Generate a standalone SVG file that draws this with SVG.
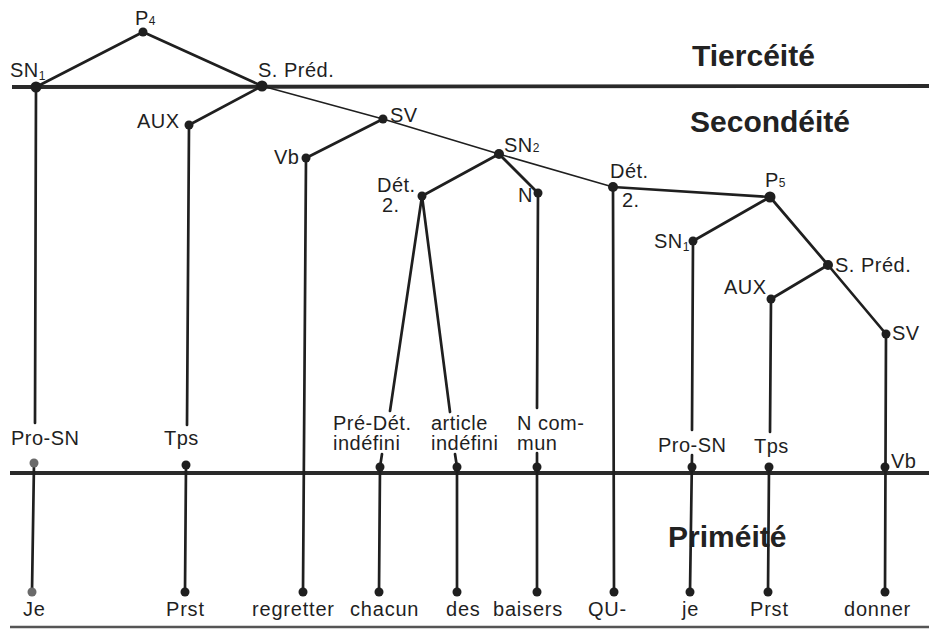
<svg xmlns="http://www.w3.org/2000/svg" width="929" height="630" viewBox="0 0 929 630">
<style>
.ln{stroke:#1f1f1f;stroke-width:2.7;fill:none;stroke-linecap:round}
.thin{stroke-width:1.5}
.rule{stroke:#2a2a2a;stroke-width:3.8;fill:none}
.dot{fill:#1f1f1f}
.gdot{fill:#6a6a6a}
.t{font-family:"Liberation Sans",Arial,Helvetica,sans-serif;font-size:20px;fill:#1f1f1f;letter-spacing:0.5px}
.w{font-size:20px;letter-spacing:0.8px}
.b{font-family:"Liberation Sans",Arial,Helvetica,sans-serif;font-size:30px;font-weight:bold;fill:#222}
.sub{font-size:12px}
</style>
<rect width="929" height="630" fill="#fff"/>
<g id="rules">
<line class="rule" x1="12" y1="87" x2="929" y2="86"/>
<line class="rule" x1="10" y1="473" x2="929" y2="473"/>
<line x1="10" y1="627" x2="929" y2="627" stroke="#555" stroke-width="2.5"/>
</g>
<g id="levels">
<text class="b" x="692" y="66">Tiercéité</text>
<text class="b" x="690" y="132">Secondéité</text>
<text class="b" x="668" y="547">Priméité</text>
</g>
<g id="connectors">
<line class="ln" x1="143" y1="32" x2="36" y2="87"/>
<line class="ln" x1="143" y1="32" x2="262" y2="86"/>
<line class="ln" x1="262" y1="86" x2="189" y2="125"/>
<line class="ln thin" x1="262" y1="86" x2="383" y2="119"/>
<line class="ln" x1="383" y1="119" x2="306" y2="158"/>
<line class="ln thin" x1="383" y1="119" x2="499" y2="154"/>
<line class="ln" x1="499" y1="154" x2="422" y2="196"/>
<line class="ln" x1="499" y1="154" x2="538" y2="193"/>
<line class="ln thin" x1="499" y1="154" x2="613" y2="187"/>
<line class="ln" x1="613" y1="187" x2="770" y2="197"/>
<line class="ln" x1="770" y1="197" x2="693" y2="241"/>
<line class="ln" x1="770" y1="197" x2="828" y2="265"/>
<line class="ln" x1="828" y1="265" x2="771" y2="299"/>
<line class="ln" x1="828" y1="265" x2="886" y2="334"/>
<line class="ln" x1="36" y1="87" x2="35" y2="423"/>
<line class="ln" x1="34" y1="463" x2="32" y2="592"/>
<line class="ln" x1="189" y1="125" x2="187" y2="425"/>
<line class="ln" x1="186" y1="465" x2="185" y2="592"/>
<line class="ln" x1="306" y1="158" x2="303" y2="592"/>
<line class="ln" x1="422" y1="196" x2="390" y2="411"/>
<line class="ln" x1="422" y1="196" x2="450" y2="412"/>
<line class="ln" x1="382" y1="454" x2="380" y2="467"/>
<line class="ln" x1="380" y1="467" x2="379" y2="592"/>
<line class="ln" x1="455" y1="454" x2="457" y2="467"/>
<line class="ln" x1="457" y1="467" x2="457" y2="592"/>
<line class="ln" x1="538" y1="193" x2="537" y2="408"/>
<line class="ln" x1="537" y1="453" x2="537" y2="592"/>
<line class="ln" x1="613" y1="187" x2="614" y2="592"/>
<line class="ln" x1="693" y1="241" x2="692" y2="430"/>
<line class="ln" x1="692" y1="455" x2="690" y2="592"/>
<line class="ln" x1="771" y1="299" x2="770" y2="432"/>
<line class="ln" x1="769" y1="467" x2="768" y2="592"/>
<line class="ln" x1="886" y1="334" x2="885" y2="592"/>
</g>
<g id="P4"><circle class="dot" cx="143" cy="32" r="4.5"/><text class="t" x="135" y="25">P<tspan class="sub">4</tspan></text></g>
<g id="SN1"><circle class="dot" cx="36" cy="87" r="5.5"/><text class="t" x="10" y="77">SN<tspan class="sub" dy="3">1</tspan></text></g>
<g id="SPred"><circle class="dot" cx="262" cy="86" r="5.5"/><text class="t" x="258" y="77">S. Préd.</text></g>
<g id="AUX"><circle class="dot" cx="189" cy="125" r="4.5"/><text class="t" x="137" y="128">AUX</text></g>
<g id="SV"><circle class="dot" cx="383" cy="119" r="4.5"/><text class="t" x="390" y="122">SV</text></g>
<g id="Vb"><circle class="dot" cx="306" cy="158" r="4.5"/><text class="t" x="274" y="164">Vb</text></g>
<g id="SN2"><circle class="dot" cx="499" cy="154" r="5"/><text class="t" x="504" y="152">SN<tspan class="sub">2</tspan></text></g>
<g id="Det2a"><circle class="dot" cx="422" cy="196" r="4.5"/><text class="t" x="377" y="192">Dét.<tspan x="382" dy="20">2.</tspan></text></g>
<g id="N"><circle class="dot" cx="538" cy="193" r="4.5"/><text class="t" x="518" y="202">N</text></g>
<g id="Det2b"><circle class="dot" cx="613" cy="187" r="5"/><text class="t" x="610" y="178">Dét.<tspan x="622" dy="29">2.</tspan></text></g>
<g id="P5"><circle class="dot" cx="770" cy="197" r="5.5"/><text class="t" x="765" y="187">P<tspan class="sub">5</tspan></text></g>
<g id="SN1b"><circle class="dot" cx="693" cy="241" r="4.5"/><text class="t" x="654" y="248">SN<tspan class="sub" dy="3">1</tspan></text></g>
<g id="SPred2"><circle class="dot" cx="828" cy="265" r="5"/><text class="t" x="835" y="272">S. Préd.</text></g>
<g id="AUX2"><circle class="dot" cx="771" cy="299" r="4.5"/><text class="t" x="724" y="294">AUX</text></g>
<g id="SV2"><circle class="dot" cx="886" cy="334" r="4.5"/><text class="t" x="892" y="340">SV</text></g>
<g id="ProSN"><circle class="gdot" cx="34" cy="463" r="4.5"/><text class="t" x="11" y="445">Pro-SN</text></g>
<g id="Tps"><circle class="dot" cx="186" cy="465" r="4.5"/><text class="t" x="164" y="445">Tps</text></g>
<g id="PreDet"><circle class="dot" cx="380" cy="467" r="4.5"/><text class="t" x="333" y="430">Pré-Dét.<tspan x="333" dy="20">indéfini</tspan></text></g>
<g id="Article"><circle class="dot" cx="457" cy="467" r="4.5"/><text class="t" x="431" y="430">article<tspan x="431" dy="20">indéfini</tspan></text></g>
<g id="Ncommun"><circle class="dot" cx="537" cy="467" r="4.5"/><text class="t" x="517" y="430">N com-<tspan x="517" dy="20">mun</tspan></text></g>
<g id="ProSN2"><circle class="dot" cx="692" cy="467" r="4.5"/><text class="t" x="658" y="452">Pro-SN</text></g>
<g id="Tps2"><circle class="dot" cx="769" cy="467" r="4.5"/><text class="t" x="754" y="453">Tps</text></g>
<g id="Vb2"><circle class="dot" cx="885" cy="467" r="4.5"/><text class="t" x="891" y="468">Vb</text></g>
<g id="Je"><circle class="gdot" cx="32" cy="592" r="4.5"/><text class="t w" x="23" y="616">Je</text></g>
<g id="Prst"><circle class="dot" cx="185" cy="592" r="4.5"/><text class="t w" x="166" y="616">Prst</text></g>
<g id="regretter"><circle class="dot" cx="303" cy="592" r="4.5"/><text class="t w" x="252" y="616">regretter</text></g>
<g id="chacun"><circle class="dot" cx="379" cy="592" r="4.5"/><text class="t w" x="350" y="616">chacun</text></g>
<g id="des"><circle class="dot" cx="457" cy="592" r="4.5"/><text class="t w" x="446" y="616">des</text></g>
<g id="baisers"><circle class="dot" cx="537" cy="592" r="4.5"/><text class="t w" x="493" y="616">baisers</text></g>
<g id="QU"><circle class="dot" cx="614" cy="592" r="4.5"/><text class="t w" x="588" y="616">QU-</text></g>
<g id="je"><circle class="dot" cx="690" cy="592" r="4.5"/><text class="t w" x="682" y="616">je</text></g>
<g id="Prst2"><circle class="dot" cx="768" cy="592" r="4.5"/><text class="t w" x="750" y="616">Prst</text></g>
<g id="donner"><circle class="dot" cx="885" cy="592" r="4.5"/><text class="t w" x="844" y="616">donner</text></g>
</svg>
